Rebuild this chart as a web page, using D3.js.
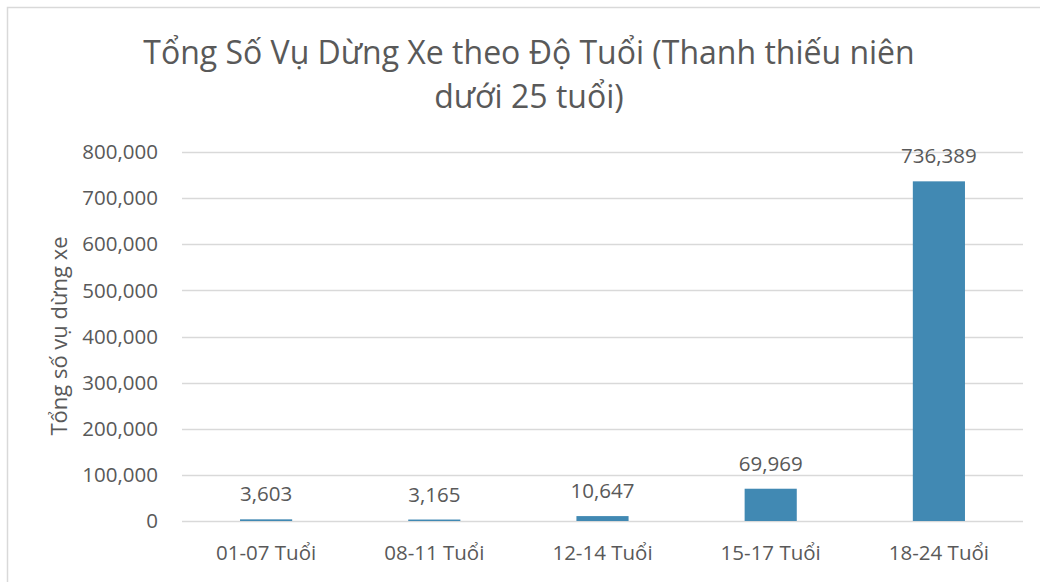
<!DOCTYPE html>
<html>
<head>
<meta charset="utf-8">
<script src="https://cdn.jsdelivr.net/npm/d3@7"></script>
<style>
  body { margin: 0; background: #fff; }
  svg text { font-family: "Open Sans", "Noto Sans", sans-serif; fill: #595959; }
</style>
</head>
<body>
<svg id="chart" width="1040" height="582"></svg>
<script>
// data
const categories = ["01-07 Tuổi", "08-11 Tuổi", "12-14 Tuổi", "15-17 Tuổi", "18-24 Tuổi"];
const stops = [3603, 3165, 10647, 69969, 736389];
const yTicks = [0, 100000, 200000, 300000, 400000, 500000, 600000, 700000, 800000];
const titleLines = ["Tổng Số Vụ Dừng Xe theo Độ Tuổi (Thanh thiếu niên", "dưới 25 tuổi)"];
const yTitle = "Tổng số vụ dừng xe";

const svg = d3.select("#chart");
const margin = { left: 182, right: 1023, top: 152, bottom: 521 };

// frame
svg.append("path")
    .attr("d", "M7.5,582 L7.5,7.5 L1040,7.5")
    .attr("fill", "none")
    .attr("stroke", "#d9d9d9")
    .attr("stroke-width", 1.5);

const x = d3.scaleBand()
    .domain(categories)
    .range([margin.left, margin.right])
    .paddingInner(0.69)
    .paddingOuter(0.345);

const y = d3.scaleLinear()
    .domain([0, 800000])
    .range([margin.bottom, margin.top]);

const fmt = d3.format(",");

// gridlines
svg.append("g")
    .selectAll("line")
    .data(yTicks)
    .enter()
    .append("line")
    .attr("x1", margin.left)
    .attr("x2", margin.right)
    .attr("y1", d => Math.round(y(d)) + 0.5)
    .attr("y2", d => Math.round(y(d)) + 0.5)
    .attr("stroke", "#d9d9d9")
    .attr("stroke-width", 1.5);

// y tick labels
svg.append("g")
    .selectAll("text")
    .data(yTicks)
    .enter()
    .append("text")
    .attr("x", 158)
    .attr("y", d => y(d))
    .attr("dy", "0.35em")
    .attr("text-anchor", "end")
    .style("font-size", "20.5px")
    .text(d => fmt(d));

// bars
svg.append("g")
    .selectAll("rect")
    .data(stops)
    .enter()
    .append("rect")
    .attr("x", (d, i) => x(categories[i]))
    .attr("width", x.bandwidth())
    .attr("y", d => y(d))
    .attr("height", d => y(0) - y(d))
    .attr("fill", "#4189b3");

// value labels
svg.append("g")
    .selectAll("text")
    .data(stops)
    .enter()
    .append("text")
    .attr("x", (d, i) => x(categories[i]) + x.bandwidth() / 2)
    .attr("y", d => y(d) - 18)
    .attr("text-anchor", "middle")
    .style("font-size", "20.5px")
    .text(d => fmt(d));

// x labels
svg.append("g")
    .selectAll("text")
    .data(categories)
    .enter()
    .append("text")
    .attr("x", d => x(d) + x.bandwidth() / 2)
    .attr("y", 560)
    .attr("text-anchor", "middle")
    .style("font-size", "20.5px")
    .text(d => d);

// y axis title
svg.append("text")
    .attr("transform", "translate(67,336) rotate(-90)")
    .attr("text-anchor", "middle")
    .style("font-size", "22px")
    .text(yTitle);

// title
svg.append("g")
    .selectAll("text")
    .data(titleLines)
    .enter()
    .append("text")
    .attr("x", 529)
    .attr("y", (d, i) => 64 + i * 44)
    .attr("text-anchor", "middle")
    .style("font-size", "32px")
    .text(d => d);
</script>
</body>
</html>
